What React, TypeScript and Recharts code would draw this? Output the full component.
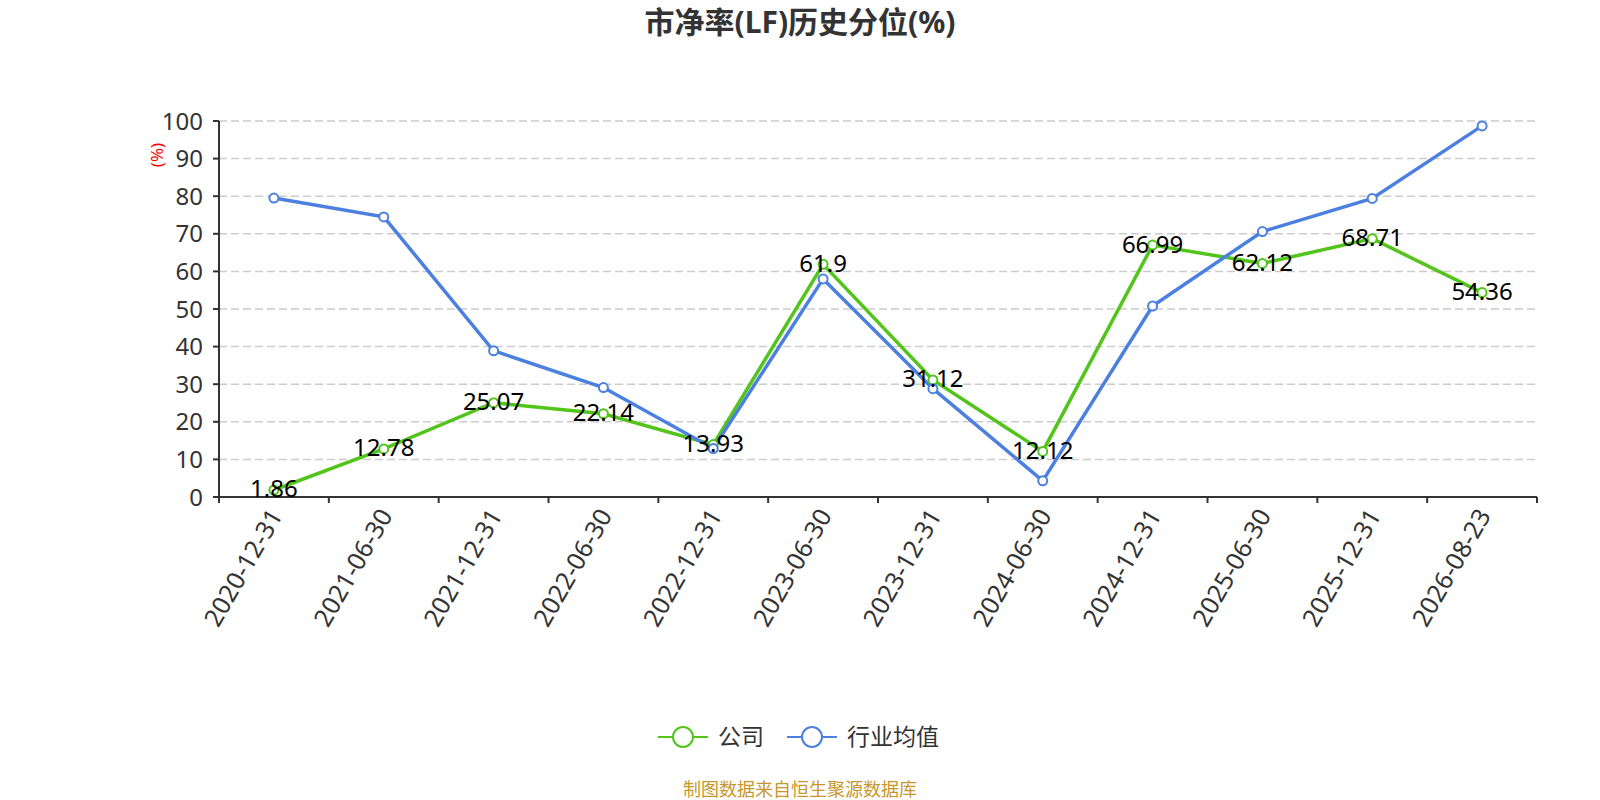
import React from "react";
import { LineChart, Line, XAxis, YAxis, CartesianGrid, LabelList } from "recharts";

// 报告期
const periods = [
  "2020-12-31",
  "2021-06-30",
  "2021-12-31",
  "2022-06-30",
  "2022-12-31",
  "2023-06-30",
  "2023-12-31",
  "2024-06-30",
  "2024-12-31",
  "2025-06-30",
  "2025-12-31",
  "2026-08-23",
];

// 公司 市净率历史分位
const companyValues = [1.86, 12.78, 25.07, 22.14, 13.93, 61.9, 31.12, 12.12, 66.99, 62.12, 68.71, 54.36];

// 行业均值
const industryValues = [79.5, 74.5, 38.9, 29.1, 12.9, 58.0, 28.8, 4.3, 50.8, 70.6, 79.4, 98.7];

const yTicks = [0, 10, 20, 30, 40, 50, 60, 70, 80, 90, 100];

const GREEN = "#52c41a";
const BLUE = "#4b80e0";
const FONT = '"Noto Sans", "Noto Sans CJK SC", sans-serif';

// points sit in the middle of each band, ticks on the band edges
const data = periods.map((p, i) => ({
  pos: i + 0.5,
  period: p,
  company: companyValues[i],
  industry: industryValues[i],
}));

const xTicks: number[] = [];
for (let i = 0; i <= periods.length * 2; i++) xTicks.push(i / 2);

const XTick = (props: any) => {
  const { x, y, payload } = props;
  const v = payload.value as number;
  if (Number.isInteger(v)) {
    return <line x1={x} y1={y} x2={x} y2={y + 6} stroke="#333" strokeWidth={2} />;
  }
  const label = periods[Math.floor(v)];
  return (
    <g transform={`translate(${x + 2},${y + 14})`}>
      <text
        transform="rotate(-60)"
        textAnchor="end"
        dy="0.35em"
        fontSize={25}
        fill="#333"
        fontFamily={FONT}
      >
        {label}
      </text>
    </g>
  );
};

const ValueLabel = (props: any) => {
  const { x, y, value } = props;
  return (
    <text x={x} y={y - 1} dy="0.35em" textAnchor="middle" fontSize={24} fill="#000" fontFamily={FONT}>
      {value}
    </text>
  );
};

const Overlay = () => (
  <svg
    width={1600}
    height={800}
    style={{ position: "absolute", left: 0, top: 0, pointerEvents: "none" }}
    fontFamily={FONT}
  >
    <text x={800} y={22} dy="0.35em" textAnchor="middle" fontSize={30} fontWeight="bold" fill="#333">
      市净率(LF)历史分位(%)
    </text>
    <text
      x={157}
      y={155}
      dy="0.35em"
      textAnchor="middle"
      fontSize={17}
      fill="#ff0000"
      transform="rotate(-90 157 155)"
    >
      (%)
    </text>

    {/* legend */}
    <line x1={658} y1={737} x2={708} y2={737} stroke={GREEN} strokeWidth={2} />
    <circle cx={683} cy={737} r={10} fill="#fff" stroke={GREEN} strokeWidth={2} />
    <text x={718} y={737} dy="0.35em" fontSize={23} fill="#333">
      公司
    </text>
    <line x1={787} y1={737} x2={837} y2={737} stroke={BLUE} strokeWidth={2} />
    <circle cx={812} cy={737} r={10} fill="#fff" stroke={BLUE} strokeWidth={2} />
    <text x={847} y={737} dy="0.35em" fontSize={23} fill="#333">
      行业均值
    </text>

    <text x={800} y={790} dy="0.35em" textAnchor="middle" fontSize={18} fill="#c7962c">
      制图数据来自恒生聚源数据库
    </text>
  </svg>
);

export default function App() {
  return (
    <div style={{ position: "absolute", left: 0, top: 0, width: 1600, height: 800, background: "#fff" }}>
      <LineChart
        width={1600}
        height={800}
        data={data}
        margin={{ top: 121, right: 63, left: 139, bottom: 153 }}
      >
        <CartesianGrid vertical={false} stroke="#ccc" strokeWidth={1.5} strokeDasharray="8 4" />
        <XAxis
          dataKey="pos"
          type="number"
          domain={[0, periods.length]}
          ticks={xTicks}
          interval={0}
          height={150}
          tickSize={0}
          tickMargin={0}
          tickLine={false}
          axisLine={{ stroke: "#333", strokeWidth: 2 }}
          tick={<XTick />}
        />
        <YAxis
          type="number"
          domain={[0, 100]}
          ticks={yTicks}
          interval={0}
          width={80}
          tickSize={6}
          tickMargin={10}
          tickLine={{ stroke: "#333", strokeWidth: 2 }}
          axisLine={{ stroke: "#333", strokeWidth: 2 }}
          tick={{ fill: "#333", fontSize: 24, fontFamily: FONT }}
        />
        <Line
          dataKey="company"
          stroke={GREEN}
          strokeWidth={3.5}
          dot={{ r: 4.5, fill: "#fff", stroke: GREEN, strokeWidth: 2 }}
          activeDot={false}
          isAnimationActive={false}
        />
        <Line
          dataKey="industry"
          stroke={BLUE}
          strokeWidth={3.5}
          dot={{ r: 4.5, fill: "#fff", stroke: BLUE, strokeWidth: 2 }}
          activeDot={false}
          isAnimationActive={false}
        />
        {/* labels drawn last so they sit above both lines */}
        <Line
          dataKey="company"
          stroke="none"
          dot={false}
          activeDot={false}
          isAnimationActive={false}
        >
          <LabelList dataKey="company" content={<ValueLabel />} />
        </Line>
      </LineChart>
      <Overlay />
    </div>
  );
}
